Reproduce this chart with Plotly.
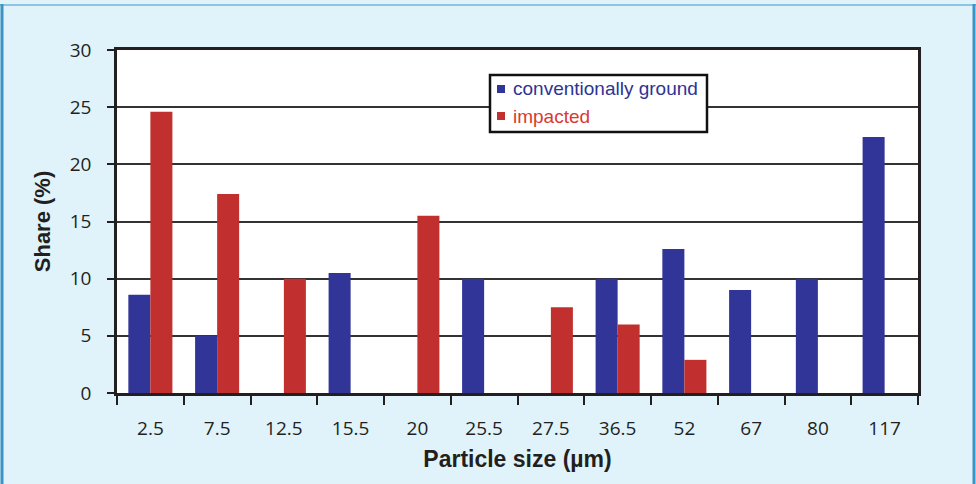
import plotly.graph_objects as go

categories = ["2.5", "7.5", "12.5", "15.5", "20", "25.5", "27.5", "36.5", "52", "67", "80", "117"]
conventional = [8.6, 5.0, None, 10.5, None, 10.0, None, 10.0, 12.6, 9.0, 10.0, 22.4]
impacted = [24.6, 17.4, 10.0, None, 15.5, None, 7.5, 6.0, 2.9, None, None, None]
series_names = ["conventionally ground", "impacted"]
series_colors = ["#303597", "#c1302e"]
legend_text_colors = ["#2e3394", "#d93a30"]
y_ticks = [0, 5, 10, 15, 20, 25, 30]

W, H = 976, 484
L, R, T, B = 117, 58, 50, 91
pw, ph = W - L - R, H - T - B

def px(x):
    return (x - L) / pw

def py(y):
    return (H - B - y) / ph

fig = go.Figure()
for name, vals, col in zip(series_names, [conventional, impacted], series_colors):
    fig.add_trace(go.Bar(x=categories, y=vals, name=name,
                         marker=dict(color=col, line=dict(width=0))))

tick_font = dict(family="'Open Sans', Lato, sans-serif", size=19, color="#231f20")
title_font = dict(family="'Liberation Sans', Arial, sans-serif", size=22, color="#231f20")

shapes = [
    dict(type="line", xref="paper", yref="paper", x0=px(0), x1=px(976), y0=py(5), y1=py(5),
         line=dict(color="#8cc5df", width=2)),
    dict(type="line", xref="paper", yref="paper", x0=px(2), x1=px(2), y0=py(4), y1=py(484),
         line=dict(color="#3a93c2", width=3)),
    dict(type="line", xref="paper", yref="paper", x0=px(974), x1=px(974), y0=py(4), y1=py(484),
         line=dict(color="#3a93c2", width=3)),
    # legend box
    dict(type="rect", xref="paper", yref="paper", x0=px(490), x1=px(707), y0=py(132), y1=py(75),
         fillcolor="#ffffff", line=dict(color="#111111", width=2.5), layer="above"),
]
annotations = []
legend_rows = [89, 116]
for i, (name, col, tcol) in enumerate(zip(series_names, series_colors, legend_text_colors)):
    cy = legend_rows[i]
    shapes.append(dict(type="rect", xref="paper", yref="paper",
                       x0=px(497), x1=px(505), y0=py(cy + 4), y1=py(cy - 4),
                       fillcolor=col, line=dict(width=0), layer="above"))
    annotations.append(dict(xref="paper", yref="paper", x=px(511), y=py(cy),
                            xanchor="left", yanchor="middle", showarrow=False, text=name,
                            font=dict(family="'Liberation Sans', Arial, sans-serif", size=19, color=tcol)))

fig.update_layout(
    width=W, height=H,
    margin=dict(l=L, r=R, t=T, b=B, autoexpand=False),
    paper_bgcolor="#e0f3fa",
    plot_bgcolor="#ffffff",
    barmode="group",
    bargap=0.34,
    bargroupgap=0,
    showlegend=False,
    xaxis=dict(
        type="category",
        showline=True, linecolor="#231f20", linewidth=2.5, mirror=True,
        ticks="outside", tickson="boundaries", ticklen=9, tickwidth=2, tickcolor="#231f20",
        tickfont=tick_font, ticklabelstandoff=16,
        title=dict(text="<b>Particle size (µm)</b>", font=dict(title_font, size=23), standoff=12),
        showgrid=False, automargin=False,
    ),
    yaxis=dict(
        range=[0, 30], tickvals=y_ticks,
        showline=True, linecolor="#231f20", linewidth=2.5, mirror=True,
        ticks="outside", ticklen=7, tickwidth=2, tickcolor="#231f20",
        tickfont=tick_font, ticklabelstandoff=12,
        showgrid=True, gridcolor="#333333", gridwidth=1.7,
        zeroline=False,
        title=dict(text="<b>Share (%)</b>", font=title_font, standoff=14),
        automargin=False,
    ),
    shapes=shapes,
    annotations=annotations,
)

fig.write_html("out.html")
